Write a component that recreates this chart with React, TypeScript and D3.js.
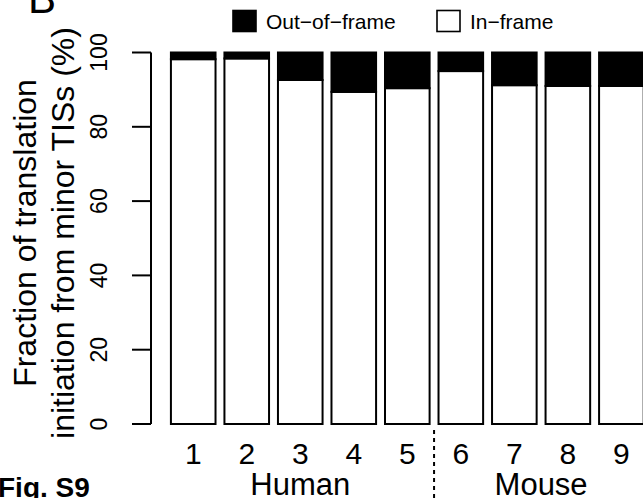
import React from "react";
import * as d3 from "d3";

// Samples 1–5 are human, 6–9 mouse
const samples = ["1", "2", "3", "4", "5", "6", "7", "8", "9"];
const inFramePct = [98.2, 98.4, 92.6, 89.4, 90.4, 95.0, 91.2, 91.0, 91.0];
const yTicks = [0, 20, 40, 60, 80, 100];
const groups = [
  { name: "Human", from: 0, to: 4 },
  { name: "Mouse", from: 5, to: 8 },
];
const legendItems = [
  { label: "Out\u2212of\u2212frame", fill: "#000" },
  { label: "In\u2212frame", fill: "#fff" },
];

const W = 643;
const H = 498;
const FONT = "'Liberation Sans', Arial, Helvetica, sans-serif";

export default function App() {
  // barplot-style x: bar i spans [0.2 + 1.2 i, 1.2 + 1.2 i]
  const x = d3.scaleLinear().domain([0, 1]).range([162, 162 + 44.6]);
  const y = d3.scaleLinear().domain([0, 100]).range([424, 52.5]);
  const barLeft = (i: number) => x(0.2 + 1.2 * i);
  const barRight = (i: number) => x(1.2 + 1.2 * i);
  const barMid = (i: number) => (barLeft(i) + barRight(i)) / 2;
  const divider = x(1.2 * 5 + 0.1);
  const axisX = 151;
  const tickLen = 19;
  const titleMid = 233;
  const sw = 2;

  return (
    <svg
      width={W}
      height={H}
      style={{ position: "absolute", left: 0, top: 0, background: "#fff" }}
      fontFamily={FONT}
    >
      {/* panel letters */}
      <text x={28} y={13} fontSize={42} fill="#000">B</text>
      <text x={-2} y={497} fontSize={28} fontWeight="bold" fill="#000">Fig. S9</text>

      {/* legend */}
      {legendItems.map((d, i) => {
        const lx = i === 0 ? 233 : 437;
        return (
          <g key={d.label}>
            <rect x={lx} y={10.5} width={23} height={21} fill={d.fill} stroke="#000" strokeWidth={1.6} />
            <text x={lx + 33} y={29} fontSize={21} fill="#000">{d.label}</text>
          </g>
        );
      })}

      {/* y axis */}
      <line x1={axisX} x2={axisX} y1={y(0)} y2={y(100)} stroke="#000" strokeWidth={sw} />
      {yTicks.map((t) => (
        <g key={t}>
          <line x1={axisX - tickLen} x2={axisX} y1={y(t)} y2={y(t)} stroke="#000" strokeWidth={sw} />
          <text
            transform={`translate(98.5,${y(t)}) rotate(-90)`}
            textAnchor="middle"
            dy="0.36em"
            fontSize={23}
            fill="#000"
          >
            {t}
          </text>
        </g>
      ))}

      {/* y axis title */}
      <text transform={`translate(36,${titleMid}) rotate(-90)`} textAnchor="middle" fontSize={32} fill="#000">
        Fraction of translation
      </text>
      <text transform={`translate(74,${titleMid}) rotate(-90)`} textAnchor="middle" fontSize={32} fill="#000">
        initiation from minor TISs (%)
      </text>

      {/* stacked bars */}
      {samples.map((s, i) => {
        const v = inFramePct[i];
        return (
          <g key={s}>
            <rect
              x={barLeft(i)}
              y={y(v)}
              width={barRight(i) - barLeft(i)}
              height={y(0) - y(v)}
              fill="#fff"
              stroke="#000"
              strokeWidth={sw}
            />
            <rect
              x={barLeft(i)}
              y={y(100)}
              width={barRight(i) - barLeft(i)}
              height={y(v) - y(100)}
              fill="#000"
              stroke="#000"
              strokeWidth={sw}
            />
            <text x={barMid(i)} y={464} textAnchor="middle" fontSize={30} fill="#000">{s}</text>
          </g>
        );
      })}

      {/* group labels */}
      {groups.map((g) => (
        <text
          key={g.name}
          x={(barMid(g.from) + barMid(g.to)) / 2}
          y={495}
          textAnchor="middle"
          fontSize={31}
          fill="#000"
        >
          {g.name}
        </text>
      ))}

      {/* species divider */}
      <line x1={divider} x2={divider} y1={430} y2={H} stroke="#000" strokeWidth={sw} strokeDasharray="4,4" />
    </svg>
  );
}
